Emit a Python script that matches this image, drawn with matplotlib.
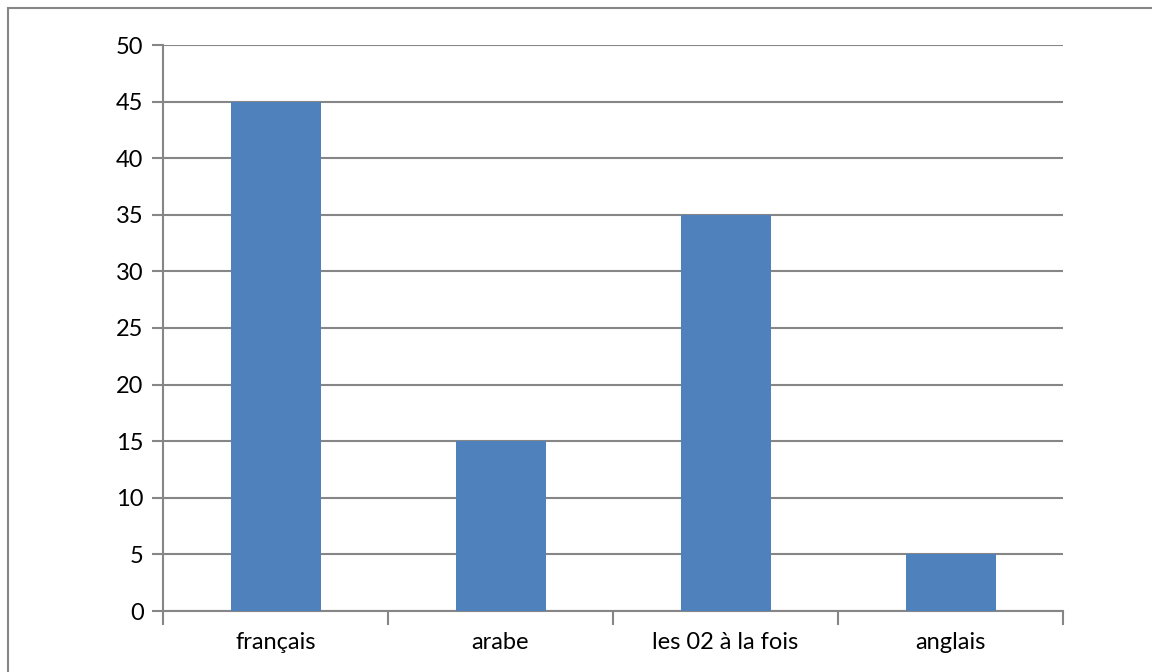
import numpy as np
import matplotlib.pyplot as plt
from matplotlib.patches import Rectangle

# chart data
categories = ["français", "arabe", "les 02 à la fois", "anglais"]
values = [45, 15, 35, 5]

plt.rcParams['font.family'] = ['Lato', 'DejaVu Sans']

W, H = 1152, 672
fig = plt.figure(figsize=(W / 100, H / 100), dpi=100)

# outer frame, runs off the right and bottom edges
fig.patches.append(Rectangle((8 / W, -0.1), 1.2, 1 - 8 / H + 0.1, transform=fig.transFigure,
                             fill=False, edgecolor="#868686", linewidth=1.5))

ax = fig.add_axes([163 / W, 1 - 611 / H, (1063 - 163) / W, (611 - 45) / H])

x = np.arange(len(categories))
ax.bar(x, values, width=0.4, color="#4F81BD", zorder=3)

ax.set_xlim(-0.5, len(categories) - 0.5)
ax.set_ylim(0, 50)
ax.set_yticks(range(0, 51, 5))
ax.yaxis.grid(True, color="#868686", linewidth=1.5, zorder=0)

ax.set_xticks(x)
ax.set_xticklabels(categories)
ax.set_xticks(np.arange(-0.5, len(categories)), minor=True)
ax.tick_params(axis="x", which="major", length=0, pad=15, labelsize=17)
ax.tick_params(axis="x", which="minor", length=10, width=1.5, color="#868686")
ax.tick_params(axis="y", length=8, width=1.5, color="#868686", pad=6, labelsize=17)

for s in ["top", "right"]:
    ax.spines[s].set_visible(False)
for s in ["left", "bottom"]:
    ax.spines[s].set_color("#868686")
    ax.spines[s].set_linewidth(1.5)

fig.savefig("out.png", dpi=100)
